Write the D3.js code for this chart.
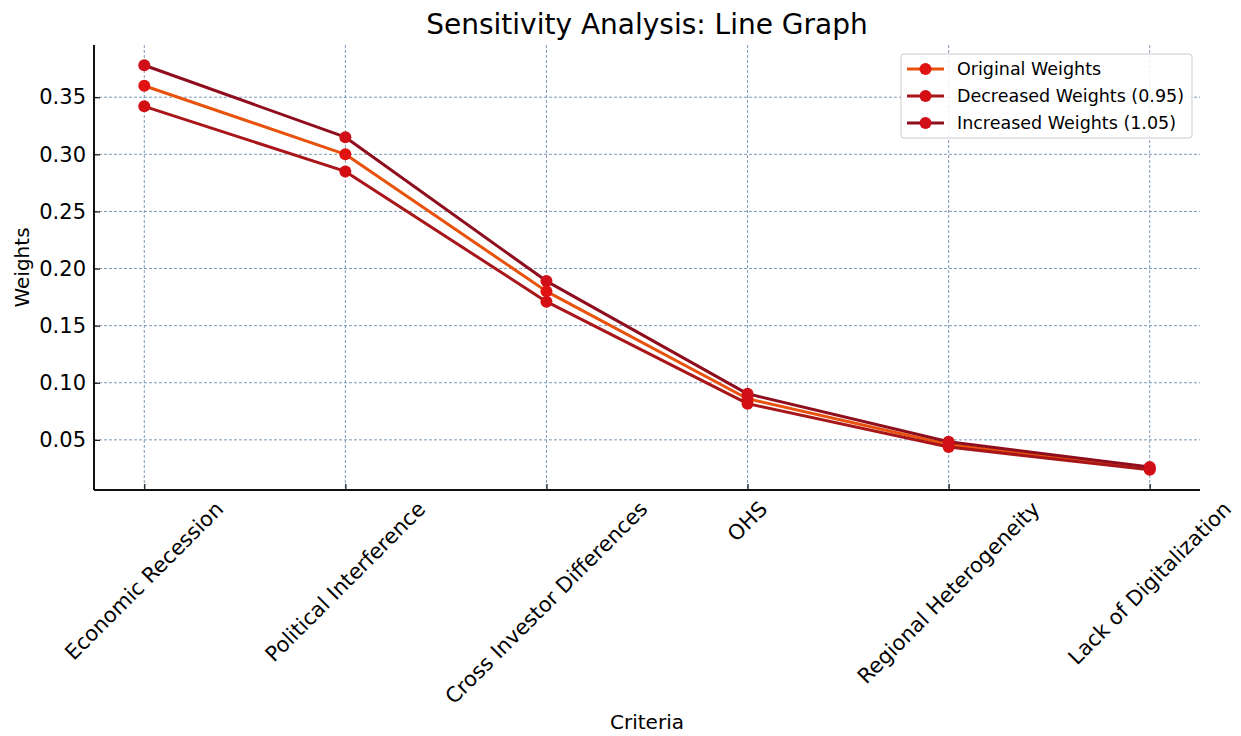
<!DOCTYPE html>
<html>
<head>
<meta charset="utf-8">
<script src="https://cdn.jsdelivr.net/npm/d3@7"></script>
<style>
    body { margin: 0; background: #fff; }
    text { font-family: "DejaVu Sans", sans-serif; fill: #000; }
</style>
</head>
<body>
<svg id="line-chart"></svg>
<script>
// Chart data
const criteria = ["Economic Recession", "Political Interference", "Cross Investor Differences",
    "OHS", "Regional Heterogeneity", "Lack of Digitalization"];
const original_weights = [0.36, 0.30, 0.18, 0.086, 0.046, 0.025];
const decreased_weights = [0.342, 0.285, 0.171, 0.0817, 0.0437, 0.0238];
const increased_weights = [0.378, 0.315, 0.189, 0.0903, 0.0483, 0.0263];
const series_names = ["Original Weights", "Decreased Weights (0.95)", "Increased Weights (1.05)"];
const y_ticks = [0.05, 0.10, 0.15, 0.20, 0.25, 0.30, 0.35];

// Styles for each series
const series_styles = [
    { line: "#e8520c", marker: "#e01212" },
    { line: "#a8161a", marker: "#d40f14" },
    { line: "#8e0e1e", marker: "#d00f18" }
];
const series = [original_weights, decreased_weights, increased_weights].map((values, i) => ({
    name: series_names[i], values: values, style: series_styles[i]
}));

// Dimensions
const width = 1241, height = 736;
const margins = { top: 45, right: 41, bottom: 246, left: 94 };
const chart_width = width - margins.left - margins.right;
const chart_height = height - margins.top - margins.bottom;

// Scales (5% padding like matplotlib autoscaling)
const all_values = original_weights.concat(decreased_weights, increased_weights);
const y_min = d3.min(all_values), y_max = d3.max(all_values);
const y_pad = (y_max - y_min) * 0.05;
// scalePoint padding is in step units: 0.25 step on each side
const x_scale = d3.scalePoint()
    .domain(criteria)
    .range([0, chart_width])
    .padding(0.25);
const y_scale = d3.scaleLinear()
    .domain([y_min - y_pad, y_max + y_pad])
    .range([chart_height, 0]);

const svg = d3.select("#line-chart")
    .attr("width", width)
    .attr("height", height);
const g = svg.append("g")
    .attr("transform", `translate(${margins.left},${margins.top})`);

// Grid lines
g.append("g")
    .selectAll("line")
    .data(y_ticks)
    .enter()
    .append("line")
    .attr("x1", 0).attr("x2", chart_width)
    .attr("y1", d => y_scale(d)).attr("y2", d => y_scale(d))
    .attr("stroke", "#6f8fae").attr("stroke-width", 0.9)
    .attr("stroke-dasharray", "3,2");
g.append("g")
    .selectAll("line")
    .data(criteria)
    .enter()
    .append("line")
    .attr("x1", d => x_scale(d)).attr("x2", d => x_scale(d))
    .attr("y1", 0).attr("y2", chart_height)
    .attr("stroke", "#6f8fae").attr("stroke-width", 0.9)
    .attr("stroke-dasharray", "3,2");

// Axes (ticks pointing inside)
const x_axis = d3.axisBottom(x_scale).tickSizeInner(-6).tickSizeOuter(0).tickFormat("");
const y_axis = d3.axisLeft(y_scale).tickValues(y_ticks).tickSizeInner(-6).tickSizeOuter(0)
    .tickFormat(d3.format(".2f"));

const x_axis_g = g.append("g")
    .attr("transform", `translate(0,${chart_height})`)
    .call(x_axis);
x_axis_g.select(".domain").attr("stroke", "#111").attr("stroke-width", 2)
    .attr("d", `M0,0H${chart_width}`);
x_axis_g.selectAll(".tick line").attr("stroke", "#111").attr("stroke-width", 1.2);

const y_axis_g = g.append("g").call(y_axis);
y_axis_g.select(".domain").attr("stroke", "#111").attr("stroke-width", 2)
    .attr("d", `M0,${chart_height}V0`);
y_axis_g.selectAll(".tick line").attr("stroke", "#111").attr("stroke-width", 1.2);
y_axis_g.selectAll(".tick text")
    .attr("x", -8)
    .style("font-size", "21px")
    .style("font-family", "DejaVu Sans, sans-serif");

// Rotated x tick labels, centered under each tick (matplotlib rotation=45)
const x_labels = g.append("g").attr("transform", `translate(0,${chart_height})`);
criteria.forEach(name => {
    const t = x_labels.append("text")
        .attr("text-anchor", "middle")
        .attr("dominant-baseline", "central")
        .style("font-size", "21px")
        .text(name);
    const len = t.node().getComputedTextLength();
    const box = (len + 21) * Math.SQRT1_2;
    const cx = x_scale(name), cy = 8 + box / 2;
    t.attr("transform", `translate(${cx},${cy}) rotate(-45)`);
});

// Lines and markers
const line_gen = d3.line()
    .x((d, i) => x_scale(criteria[i]))
    .y(d => y_scale(d));

series.forEach(s => {
    g.append("path")
        .datum(s.values)
        .attr("fill", "none")
        .attr("stroke", s.style.line)
        .attr("stroke-width", 3)
        .attr("stroke-linejoin", "round")
        .attr("d", line_gen);
    g.append("g")
        .selectAll("circle")
        .data(s.values)
        .enter()
        .append("circle")
        .attr("cx", (d, i) => x_scale(criteria[i]))
        .attr("cy", d => y_scale(d))
        .attr("r", 6)
        .attr("fill", s.style.marker);
});

// Title and axis labels
svg.append("text")
    .attr("x", margins.left + chart_width / 2)
    .attr("y", 34)
    .attr("text-anchor", "middle")
    .style("font-size", "28px")
    .text("Sensitivity Analysis: Line Graph");
svg.append("text")
    .attr("x", margins.left + chart_width / 2)
    .attr("y", 729)
    .attr("text-anchor", "middle")
    .style("font-size", "20px")
    .text("Criteria");
svg.append("text")
    .attr("transform", `translate(29,${margins.top + chart_height / 2}) rotate(-90)`)
    .attr("text-anchor", "middle")
    .style("font-size", "20px")
    .text("Weights");

// Legend
const legend = svg.append("g").attr("transform", "translate(901,54)");
legend.append("rect")
    .attr("width", 291).attr("height", 84)
    .attr("rx", 3)
    .attr("fill", "#fff").attr("fill-opacity", 0.85)
    .attr("stroke", "#ccc").attr("stroke-width", 1);
series.forEach((s, i) => {
    const row = legend.append("g").attr("transform", `translate(0,${15 + i * 27})`);
    row.append("line")
        .attr("x1", 6).attr("x2", 43)
        .attr("stroke", s.style.line).attr("stroke-width", 3);
    row.append("circle")
        .attr("cx", 24.5).attr("r", 6)
        .attr("fill", s.style.marker);
    row.append("text")
        .attr("x", 56)
        .attr("dominant-baseline", "central")
        .style("font-size", "17.5px")
        .text(s.name);
});
</script>
</body>
</html>
